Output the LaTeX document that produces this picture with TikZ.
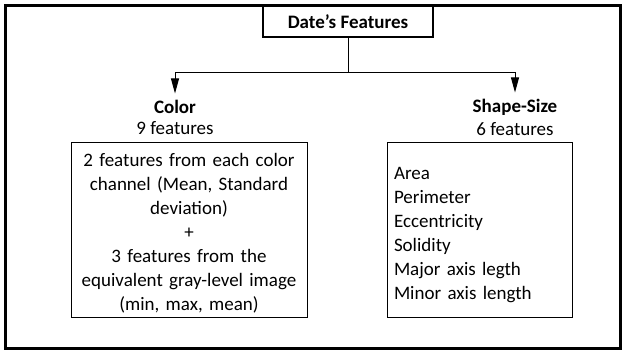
\documentclass[tikz,border=0pt]{standalone}
\usepackage{fontspec}
\setmainfont{Carlito}
\usetikzlibrary{arrows.meta}
\begin{document}
\begin{tikzpicture}[x=1pt,y=-1pt,
  txt/.style={font=\fontsize{19}{24}\selectfont, inner sep=0pt},
  btxt/.style={font=\fontsize{19}{24}\selectfont\bfseries, inner sep=0pt},
  box/.style={draw, line width=1pt, inner sep=0pt, minimum height=175pt},
  arr/.style={-{Triangle[length=15pt,width=8pt]}, line width=0.9pt, shorten >=7pt},
  conn/.style={line width=0.9pt}]
\useasboundingbox (0,0) rectangle (622,352);
\draw[line width=3pt] (5.5,6) rectangle (620.5,349);
\node[draw, line width=1.8pt, minimum width=170pt, minimum height=31pt, btxt, fill=white] (top) at (348,21.5) {Date’s Features};
\coordinate (jL) at (175,72.5);
\coordinate (jR) at (515,72.5);
\coordinate (jC) at (top.south |- jL);
\draw[conn] (top.south) -- (jC);
\draw[conn] (jL) -- (jR);
\node[btxt, anchor=base] (colorT) at (175,114) {Color};
\node[txt, anchor=base] (colorN) at (175,135) {9 features};
\node[btxt, anchor=base] (shapeT) at (515,113) {Shape-Size};
\node[txt, anchor=base] (shapeN) at (515,136) {6 features};
\draw[arr] (jL) -- (colorT.north);
\draw[arr] (jR) -- (jR |- shapeT.north);
\node[box, minimum width=236pt] (leftbox) at (189,230.5) {};
\node[box, minimum width=185pt] (rightbox) at (479.5,230.5) {};
\node[txt, text width=228pt, align=center] (lefttext) at ([yshift=-3pt]leftbox.center) {2 features from each color\\ channel (Mean, Standard\\ deviation)\\ +\\ 3 features from the\\ equivalent gray-level image\\ (min, max, mean)};
\node[txt, text width=171pt, align=left] (righttext) at ([yshift=-5pt]rightbox.center) {Area\\ Perimeter\\ Eccentricity\\ Solidity\\ Major axis legth\\ Minor axis length};
\end{tikzpicture}
\end{document}
